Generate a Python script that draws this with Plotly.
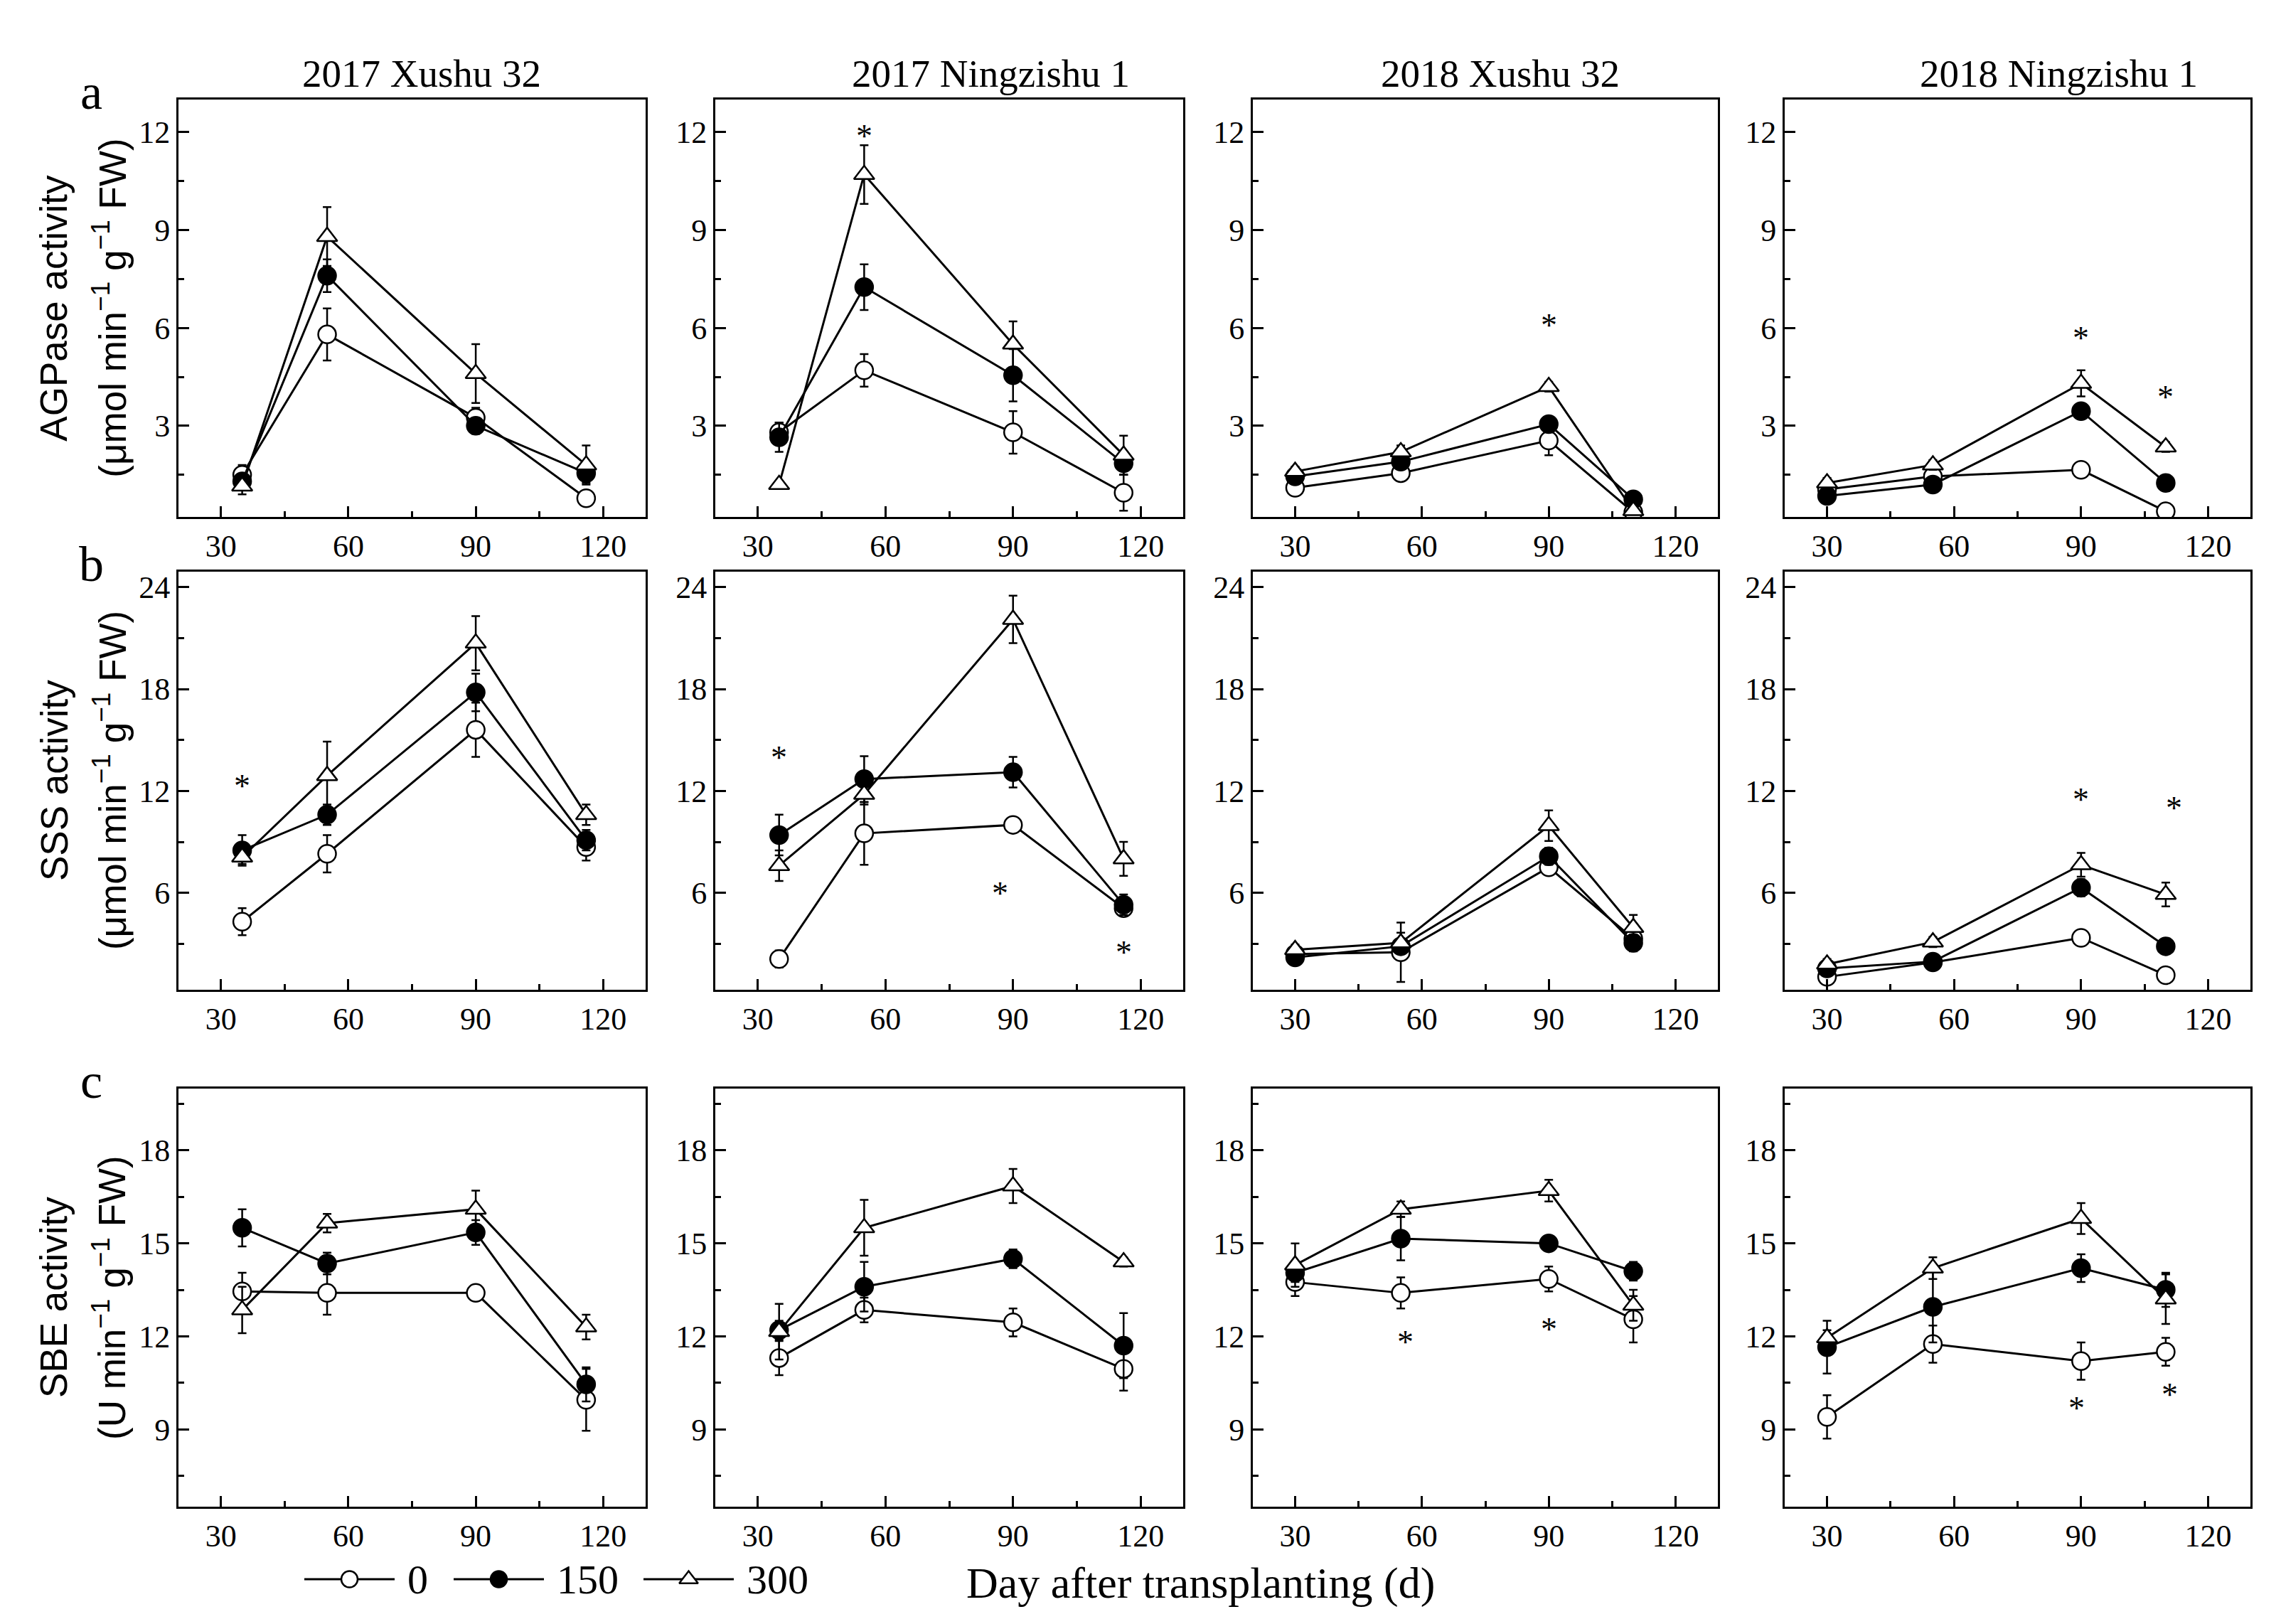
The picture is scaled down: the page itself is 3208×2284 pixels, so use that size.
import plotly.graph_objects as go
from plotly.subplots import make_subplots

# sampling days (days after transplanting)
days_2017 = [35, 55, 90, 116]
days_2018 = [30, 55, 90, 110]
panel_days = [days_2017, days_2017, days_2018, days_2018]
panel_titles = ["2017 Xushu 32", "2017 Ningzishu 1", "2018 Xushu 32", "2018 Ningzishu 1"]
levels = ["0", "150", "300"]

# row a: AGPase activity, one list per panel
agp_0 = [[1.5, 5.8, 3.25, 0.78], [2.8, 4.7, 2.8, 0.95], [1.1, 1.55, 2.55, 0.35], [1.05, 1.45, 1.65, 0.38]]
agp_0_err = [[0.3, 0.8, 0.3, 0.12], [0.3, 0.5, 0.65, 0.55], [0.15, 0.15, 0.45, 0.1], [0.1, 0.1, 0.15, 0.05]]
agp_150 = [[1.3, 7.6, 3.0, 1.55], [2.65, 7.25, 4.55, 1.85], [1.45, 1.9, 3.05, 0.75], [0.85, 1.2, 3.45, 1.25]]
agp_150_err = [[0.2, 0.5, 0.25, 0.3], [0.45, 0.7, 0.8, 0.35], [0.1, 0.15, 0.2, 0.1], [0.1, 0.1, 0.2, 0.1]]
agp_300 = [[1.15, 8.8, 4.6, 1.8], [1.2, 10.7, 5.5, 2.1], [1.6, 2.2, 4.2, 0.4], [1.25, 1.8, 4.3, 2.35]]
agp_300_err = [[0.25, 0.9, 0.9, 0.6], [0.1, 0.9, 0.7, 0.6], [0.15, 0.2, 0.15, 0.1], [0.15, 0.15, 0.4, 0.15]]
agp_stars = [[], [(55, 12.1)], [(90, 6.3)], [(90, 5.9), (110, 4.1)]]

# row b: SSS activity
sss_0 = [[4.3, 8.3, 15.6, 8.7], [2.1, 9.5, 10.0, 5.1], [2.4, 2.5, 7.5, 3.3], [1.05, 1.9, 3.35, 1.15]]
sss_0_err = [[0.8, 1.1, 1.6, 0.8], [0.5, 1.85, 0.4, 0.4], [0.3, 1.75, 0.4, 0.3], [0.3, 0.2, 0.3, 0.2]]
sss_150 = [[8.5, 10.6, 17.8, 9.1], [9.4, 12.7, 13.1, 5.3], [2.2, 2.85, 8.15, 3.05], [1.55, 1.95, 6.3, 2.85]]
sss_150_err = [[0.9, 0.6, 1.1, 0.6], [1.2, 1.35, 0.9, 0.6], [0.3, 0.3, 0.5, 0.5], [0.2, 0.3, 0.5, 0.2]]
sss_300 = [[8.1, 12.9, 20.7, 10.6], [7.6, 11.8, 22.1, 8.0], [2.65, 3.05, 9.95, 3.95], [1.8, 3.1, 7.65, 5.9]]
sss_300_err = [[0.4, 2.0, 1.6, 0.6], [0.9, 0.6, 1.4, 1.0], [0.3, 0.6, 0.9, 0.75], [0.3, 0.3, 0.7, 0.7]]
sss_stars = [[(35, 12.7)], [(35, 14.4), (87, 6.4), (116, 2.9)], [], [(90, 11.9), (112, 11.4)]]

# row c: SBE activity
sbe_0 = [[13.45, 13.4, 13.4, 9.95], [11.3, 12.85, 12.45, 10.95], [13.75, 13.4, 13.85, 12.55], [9.4, 11.75, 11.2, 11.5]]
sbe_0_err = [[0.6, 0.7, 0.15, 1.0], [0.55, 0.4, 0.45, 0.7], [0.45, 0.5, 0.4, 0.75], [0.7, 0.6, 0.6, 0.45]]
sbe_150 = [[15.5, 14.35, 15.35, 10.45], [12.2, 13.6, 14.5, 11.7], [14.05, 15.15, 15.0, 14.1], [11.65, 12.95, 14.2, 13.5]]
sbe_150_err = [[0.6, 0.35, 0.4, 0.55], [0.3, 0.8, 0.3, 1.05], [0.3, 0.7, 0.15, 0.3], [0.85, 1.15, 0.45, 0.55]]
sbe_300 = [[12.85, 15.65, 16.1, 12.3], [12.15, 15.5, 16.85, 14.4], [14.3, 16.1, 16.7, 13.0], [11.95, 14.2, 15.8, 13.2]]
sbe_300_err = [[0.75, 0.3, 0.6, 0.4], [0.9, 0.9, 0.55, 0.15], [0.7, 0.25, 0.35, 0.5], [0.25, 0.35, 0.5, 0.8]]
sbe_stars = [[], [], [(56, 12.05), (90, 12.45)], [(89, 9.9), (111, 10.35)]]

rows = [
    dict(label="a", name="AGPase activity", unit="(μmol min<sup>−1</sup> g<sup>−1</sup> FW)",
         means=[agp_0, agp_150, agp_300], errs=[agp_0_err, agp_150_err, agp_300_err],
         stars=agp_stars, yrange=[0.2, 13], ticks=[3, 6, 9, 12], minor=1.5),
    dict(label="b", name="SSS activity", unit="(μmol min<sup>−1</sup> g<sup>−1</sup> FW)",
         means=[sss_0, sss_150, sss_300], errs=[sss_0_err, sss_150_err, sss_300_err],
         stars=sss_stars, yrange=[0.3, 24.9], ticks=[6, 12, 18, 24], minor=3),
    dict(label="c", name="SBE activity", unit="(U min<sup>−1</sup> g<sup>−1</sup> FW)",
         means=[sbe_0, sbe_150, sbe_300], errs=[sbe_0_err, sbe_150_err, sbe_300_err],
         stars=sbe_stars, yrange=[6.5, 20], ticks=[9, 12, 15, 18], minor=1.5),
]

styles = {
    "0": dict(symbol="circle", color="white"),
    "150": dict(symbol="circle", color="black"),
    "300": dict(symbol="triangle-up", color="white"),
}

SERIF = "Liberation Serif, Times New Roman, serif"
SANS = "Liberation Sans, Arial, sans-serif"
W, H = 3208, 2284

col_dom = [(243, 900), (998, 1656), (1754, 2408), (2502, 3157)]
row_dom = [(130, 718), (795, 1383), (1522, 2111)]
title_x = [585, 1385, 2102, 2887]

# legend key layout (pixels along the figure width)
key_start = [420, 630, 897]
key_len = 127
key_y = 2213

fig = make_subplots(rows=3, cols=4)

for r, row in enumerate(rows):
    for c in range(4):
        for k, lev in enumerate(levels):
            st = styles[lev]
            fig.add_trace(go.Scatter(
                x=panel_days[c], y=row["means"][k][c],
                error_y=dict(type="data", array=row["errs"][k][c], color="black", thickness=2.5, width=6),
                mode="lines+markers", name=lev, showlegend=False,
                line=dict(color="black", width=3),
                marker=dict(symbol=st["symbol"], size=25, color=st["color"],
                            line=dict(color="black", width=2.5)),
            ), row=r + 1, col=c + 1)

        n = r * 4 + c + 1
        sfx = "" if n == 1 else str(n)
        x0, x1 = col_dom[c]
        y0, y1 = row_dom[r]
        fig.layout["xaxis" + sfx].domain = [x0 / W, x1 / W]
        fig.layout["yaxis" + sfx].domain = [1 - y1 / H, 1 - y0 / H]
        fig.update_xaxes(range=[20, 130], tickvals=[30, 60, 90, 120], ticks="inside", ticklen=15,
                         tickwidth=2.5, tickcolor="black",
                         minor=dict(tickvals=[45, 75, 105], ticks="inside", ticklen=8, tickwidth=2.5, tickcolor="black"),
                         showline=True, linecolor="black", linewidth=3, mirror=True, showgrid=False,
                         zeroline=False, tickfont=dict(family=SERIF, size=44, color="black"),
                         row=r + 1, col=c + 1)
        lo, hi = row["yrange"]
        m = row["minor"]
        minor_vals = [row["ticks"][0] - m + i * 2 * m for i in range(5)]
        fig.update_yaxes(range=row["yrange"], tickvals=row["ticks"], ticks="inside", ticklen=15,
                         tickwidth=2.5, tickcolor="black",
                         minor=dict(tickvals=[v for v in minor_vals if lo < v < hi], ticks="inside",
                                    ticklen=8, tickwidth=2.5, tickcolor="black"),
                         showline=True, linecolor="black", linewidth=3, mirror=True, showgrid=False,
                         zeroline=False, tickfont=dict(family=SERIF, size=44, color="black"),
                         row=r + 1, col=c + 1)

        xref = "x" + sfx
        yref = "y" + sfx
        for sx, sy in row["stars"][c]:
            fig.add_annotation(x=sx, y=sy, xref=xref, yref=yref, text="*", showarrow=False,
                               yshift=-10, font=dict(family=SERIF, size=46, color="black"))

    # panel letter and y-axis titles
    y0, y1 = row_dom[r]
    fig.add_annotation(x=120 / W, y=1 - (y0 + 30) / H, xref="paper", yref="paper", text=row["label"],
                       showarrow=False, xanchor="center", yanchor="bottom",
                       font=dict(family=SERIF, size=70, color="black"))
    yc = 1 - (y0 + y1) / 2 / H
    fig.add_annotation(x=68 / W, y=yc, xref="paper", yref="paper", text=row["name"], textangle=-90,
                       showarrow=False, xanchor="center", yanchor="middle",
                       font=dict(family=SANS, size=53, color="black"))
    fig.add_annotation(x=146 / W, y=yc, xref="paper", yref="paper", text=row["unit"], textangle=-90,
                       showarrow=False, xanchor="center", yanchor="middle",
                       font=dict(family=SANS, size=53, color="black"))

for c, title in enumerate(panel_titles):
    fig.add_annotation(x=title_x[c] / W, y=1 - 94 / H, xref="paper", yref="paper", text=title,
                       showarrow=False, xanchor="center", yanchor="middle",
                       font=dict(family=SERIF, size=55, color="black"))

fig.add_annotation(x=1680 / W, y=1 - 2218 / H, xref="paper", yref="paper", text="Day after transplanting (d)",
                   showarrow=False, xanchor="center", yanchor="middle",
                   font=dict(family=SERIF, size=62, color="black"))

# legend keys on a hidden pixel-scaled axis: line with the marker in its middle
fig.update_layout(
    xaxis13=dict(domain=[0, 1], range=[0, W], visible=False, fixedrange=True),
    yaxis13=dict(domain=[1 - (key_y + 20) / H, 1 - (key_y - 20) / H], range=[-1, 1],
                 visible=False, fixedrange=True, anchor="x13"),
)
fig.layout.xaxis13.anchor = "y13"
for k, lev in enumerate(levels):
    st = styles[lev]
    s = key_start[k]
    fig.add_trace(go.Scatter(x=[s, s + key_len], y=[0, 0], mode="lines", xaxis="x13", yaxis="y13",
                             line=dict(color="black", width=3), showlegend=False, hoverinfo="skip"))
    fig.add_trace(go.Scatter(x=[s + key_len / 2], y=[0], mode="markers", xaxis="x13", yaxis="y13",
                             name=lev, showlegend=False, hoverinfo="skip",
                             marker=dict(symbol=st["symbol"], size=23, color=st["color"],
                                         line=dict(color="black", width=2.5))))
    fig.add_annotation(x=s + key_len + 16, y=0, xref="x13", yref="y13", text=lev, showarrow=False,
                       xanchor="left", yanchor="middle", font=dict(family=SERIF, size=58, color="black"))

fig.update_layout(
    width=W, height=H,
    margin=dict(l=0, r=0, t=0, b=0),
    paper_bgcolor="white", plot_bgcolor="white",
    showlegend=False,
)

fig.write_html("out.html")
